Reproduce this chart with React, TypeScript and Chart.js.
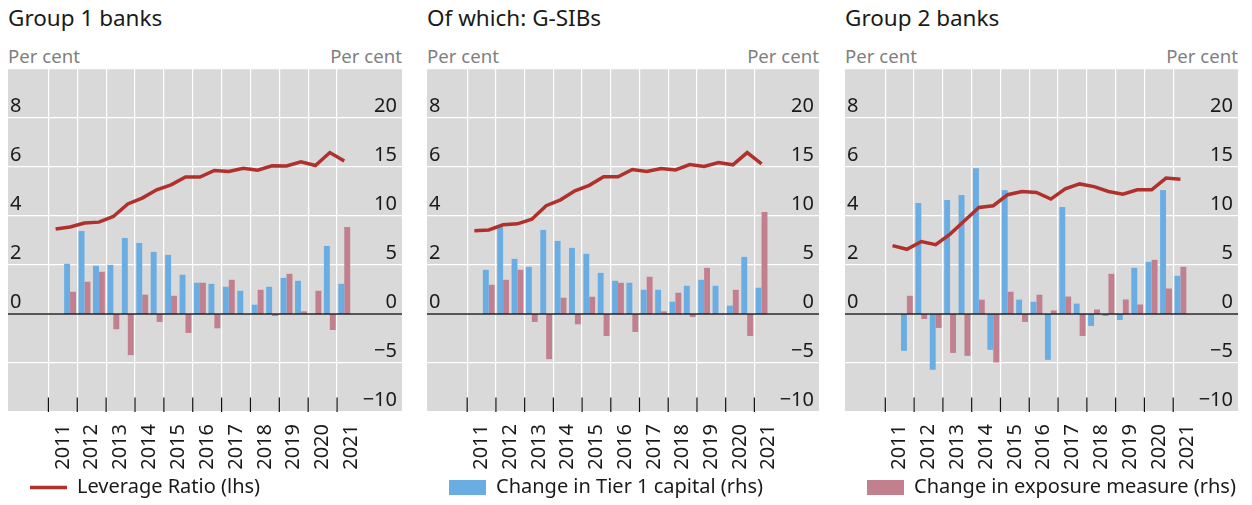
import React, { useEffect, useRef } from 'react';
import { Chart, registerables } from 'chart.js';

Chart.register(...registerables);

// ---------- data ----------
const yearLabels = ['2011', '2012', '2013', '2014', '2015', '2016', '2017', '2018', '2019', '2020', '2021'];

// Group 1 banks
const g1Leverage = [3.47, 3.55, 3.71, 3.75, 3.98, 4.49, 4.73, 5.07, 5.27, 5.59, 5.59, 5.86, 5.82, 5.95, 5.87, 6.05, 6.04, 6.21, 6.06, 6.59, 6.24];
const g1Tier1 = [5.12, 8.47, 4.92, 5.02, 7.76, 7.25, 6.34, 6.03, 4.0, 3.19, 3.08, 2.78, 2.37, 0.95, 2.78, 3.69, 3.39, 0.0, 6.95, 3.08];
const g1Exposure = [2.27, 3.29, 4.31, -1.56, -4.2, 1.97, -0.81, 1.86, -1.93, 3.19, -1.46, 3.49, 0.0, 2.47, -0.2, 4.1, 0.27, 2.37, -1.63, 8.88];

// Of which: G-SIBs
const gsibLeverage = [3.4, 3.43, 3.64, 3.68, 3.87, 4.42, 4.66, 5.03, 5.25, 5.6, 5.6, 5.9, 5.82, 5.94, 5.88, 6.1, 6.02, 6.18, 6.09, 6.59, 6.13];
const gsibTier1 = [4.51, 8.85, 5.63, 4.81, 8.58, 7.46, 6.75, 6.14, 4.2, 3.39, 3.19, 2.47, 2.47, 1.25, 2.88, 3.49, 2.88, 0.85, 5.83, 2.68];
const gsibExposure = [2.98, 3.49, 4.51, -0.81, -4.61, 1.66, -1.05, 1.76, -2.24, 3.19, -1.83, 3.8, 0.27, 2.17, -0.3, 4.71, 0.05, 2.47, -2.24, 10.41];

// Group 2 banks
const g2Leverage = [2.79, 2.64, 2.96, 2.83, 3.26, 3.81, 4.35, 4.42, 4.87, 5.0, 4.96, 4.69, 5.11, 5.31, 5.2, 5.0, 4.89, 5.07, 5.07, 5.55, 5.5];
const g2Tier1 = [-3.76, 11.32, -5.69, 11.63, 12.14, 14.88, -3.66, 12.64, 1.46, 1.25, -4.68, 10.92, 1.06, -1.22, -0.2, -0.61, 4.71, 5.32, 12.64, 3.9];
const g2Exposure = [1.86, -0.51, -1.42, -3.97, -4.27, 1.46, -4.95, 2.27, -0.81, 1.97, 0.36, 1.78, -2.24, 0.46, 4.1, 1.48, 0.97, 5.53, 2.6, 4.81];

const seriesNames = ['Leverage Ratio (lhs)', 'Change in Tier 1 capital (rhs)', 'Change in exposure measure (rhs)'];
const panelTitles = ['Group 1 banks', 'Of which: G-SIBs', 'Group 2 banks'];

// ---------- styles ----------
const FONT = '"Noto Sans", "Open Sans", sans-serif';
const TEXT = '#1a1a1a';
const GREY_TEXT = '#7f7f7f';
const RED = '#b0302b';
const BLUE = '#69ade3';
const PINK = '#c27f8e';
const PLOT_BG = '#d9d9d9';

const X_MIN = -3.3;
const X_MAX = 24;
const CANVAS_TOP = 69;
const X_AXIS_H = 60;
const LEGEND_H = 51;
const CANVAS_H = 344 + X_AXIS_H + LEGEND_H;
const LEGEND_SHIFT = -16.5;

const panelDecor = {
  id: 'panelDecor',
  afterUpdate(chart: any) {
    if (chart.legend) {
      chart.legend.top += LEGEND_SHIFT;
      chart.legend.bottom += LEGEND_SHIFT;
    }
  },
  beforeDraw(chart: any) {
    const { ctx, chartArea: a } = chart;
    ctx.save();
    ctx.fillStyle = PLOT_BG;
    ctx.fillRect(a.left, a.top, a.right - a.left, a.bottom - a.top);
    ctx.restore();
  },
  afterDatasetsDraw(chart: any) {
    const { ctx, chartArea: a } = chart;
    const xs = chart.scales.x;
    const yr = chart.scales.yR;
    ctx.save();
    ctx.strokeStyle = '#222';
    ctx.lineWidth = 1.5;
    const y0 = yr.getPixelForValue(0);
    ctx.beginPath();
    ctx.moveTo(a.left, y0);
    ctx.lineTo(a.right, y0);
    ctx.stroke();
    ctx.lineWidth = 1.2;
    ctx.strokeStyle = '#111';
    xs.ticks.forEach((t: any) => {
      const px = xs.getPixelForValue(t.value);
      ctx.beginPath();
      ctx.moveTo(px, a.bottom - 14.5);
      ctx.lineTo(px, a.bottom);
      ctx.stroke();
    });
    ctx.restore();
  },
};

type PanelDef = {
  title: string;
  left: number;
  width: number;
  lev: number[];
  t1: number[];
  exp: number[];
  legendIndex: number;
};

const panels: PanelDef[] = [
  { title: panelTitles[0], left: 8, width: 394, lev: g1Leverage, t1: g1Tier1, exp: g1Exposure, legendIndex: 0 },
  { title: panelTitles[1], left: 427, width: 392, lev: gsibLeverage, t1: gsibTier1, exp: gsibExposure, legendIndex: 1 },
  { title: panelTitles[2], left: 845, width: 393, lev: g2Leverage, t1: g2Tier1, exp: g2Exposure, legendIndex: 2 },
];

function makeConfig(p: PanelDef): any {
  const catPx = p.width / (X_MAX - X_MIN);
  const gridValues = yearLabels.map((_, k) => 2 * k - 0.5);
  const tickFont = { family: FONT, size: 20 };
  return {
    type: 'bar',
    data: {
      datasets: [
        {
          type: 'line',
          label: seriesNames[0],
          data: p.lev.map((v, i) => ({ x: i, y: v })),
          yAxisID: 'yL',
          borderColor: RED,
          backgroundColor: RED,
          borderWidth: 3.5,
          pointRadius: 0,
          tension: 0,
          order: 0,
        },
        {
          type: 'bar',
          label: seriesNames[1],
          data: p.t1.map((v, i) => ({ x: i + 1, y: v })),
          yAxisID: 'yR',
          backgroundColor: BLUE,
          borderWidth: 0,
          categoryPercentage: 0.82,
          barPercentage: 1,
          order: 1,
        },
        {
          type: 'bar',
          label: seriesNames[2],
          data: p.exp.map((v, i) => ({ x: i + 1, y: v })),
          yAxisID: 'yR',
          backgroundColor: PINK,
          borderWidth: 0,
          categoryPercentage: 0.82,
          barPercentage: 1,
          order: 2,
        },
      ],
    },
    options: {
      responsive: false,
      animation: false,
      layout: { padding: 0, autoPadding: false },
      events: [],
      plugins: {
        tooltip: { enabled: false },
        legend: {
          position: 'bottom',
          align: 'start',
          labels: {
            filter: (item: any) => item.datasetIndex === p.legendIndex,
            boxWidth: 37,
            boxHeight: 15,
            padding: 22,
            color: TEXT,
            font: { family: FONT, size: 20 },
            usePointStyle: p.legendIndex === 0,
            pointStyle: 'line',
            pointStyleWidth: 37,
          },
        },
      },
      scales: {
        x: {
          type: 'linear',
          min: X_MIN,
          max: X_MAX,
          offset: false,
          afterBuildTicks: (s: any) => {
            s.ticks = gridValues.map((v) => ({ value: v }));
          },
          afterFit: (s: any) => {
            s.height = X_AXIS_H;
            s.paddingLeft = 0;
            s.paddingRight = 0;
          },
          grid: { color: '#ffffff', lineWidth: 1.2, drawTicks: false, offset: false },
          border: { display: false },
          ticks: {
            autoSkip: false,
            minRotation: 90,
            maxRotation: 90,
            padding: 12,
            labelOffset: catPx,
            color: TEXT,
            font: tickFont,
            callback: (v: number) => yearLabels[Math.round((v + 0.5) / 2)] ?? '',
          },
        },
        yL: {
          type: 'linear',
          position: 'left',
          min: -4,
          max: 10,
          afterFit: (s: any) => {
            s.width = 0;
            s.paddingTop = 0;
            s.paddingBottom = 0;
          },
          grid: { color: '#ffffff', lineWidth: 1.3, drawTicks: false },
          border: { display: false },
          ticks: {
            stepSize: 2,
            mirror: true,
            padding: 2,
            labelOffset: -12,
            color: TEXT,
            font: tickFont,
            callback: (v: number) => (v >= 0 && v <= 8 ? String(v) : ''),
          },
        },
        yR: {
          type: 'linear',
          position: 'right',
          min: -10,
          max: 25,
          afterFit: (s: any) => {
            s.width = 0;
            s.paddingTop = 0;
            s.paddingBottom = 0;
          },
          grid: { display: false, drawTicks: false },
          border: { display: false },
          ticks: {
            stepSize: 5,
            mirror: true,
            padding: -5,
            labelOffset: -12,
            color: TEXT,
            font: tickFont,
            callback: (v: number) => (v > 20 ? '' : v < 0 ? '\u2212' + Math.abs(v) : String(v)),
          },
        },
      },
    },
    plugins: [panelDecor],
  };
}

function Panel({ p }: { p: PanelDef }) {
  const ref = useRef<HTMLCanvasElement>(null);
  useEffect(() => {
    if (!ref.current) return;
    const chart = new Chart(ref.current, makeConfig(p));
    return () => chart.destroy();
  }, [p]);
  return (
    <>
      <div
        style={{
          position: 'absolute',
          left: p.left,
          top: 3,
          fontFamily: FONT,
          fontSize: 22.5,
          lineHeight: '30px',
          color: TEXT,
          whiteSpace: 'nowrap',
        }}
      >
        {p.title}
      </div>
      <div
        style={{
          position: 'absolute',
          left: p.left,
          top: 43,
          width: p.width,
          display: 'flex',
          justifyContent: 'space-between',
          fontFamily: FONT,
          fontSize: 18.6,
          lineHeight: '26px',
          color: GREY_TEXT,
          whiteSpace: 'nowrap',
        }}
      >
        <span>Per cent</span>
        <span>Per cent</span>
      </div>
      <canvas
        ref={ref}
        width={p.width}
        height={CANVAS_H}
        style={{ position: 'absolute', left: p.left, top: CANVAS_TOP }}
      />
    </>
  );
}

export default function App() {
  return (
    <div
      style={{
        position: 'fixed',
        left: 0,
        top: 0,
        width: 1252,
        height: 505,
        overflow: 'hidden',
        background: '#ffffff',
      }}
    >
      {panels.map((p) => (
        <Panel key={p.title} p={p} />
      ))}
    </div>
  );
}
